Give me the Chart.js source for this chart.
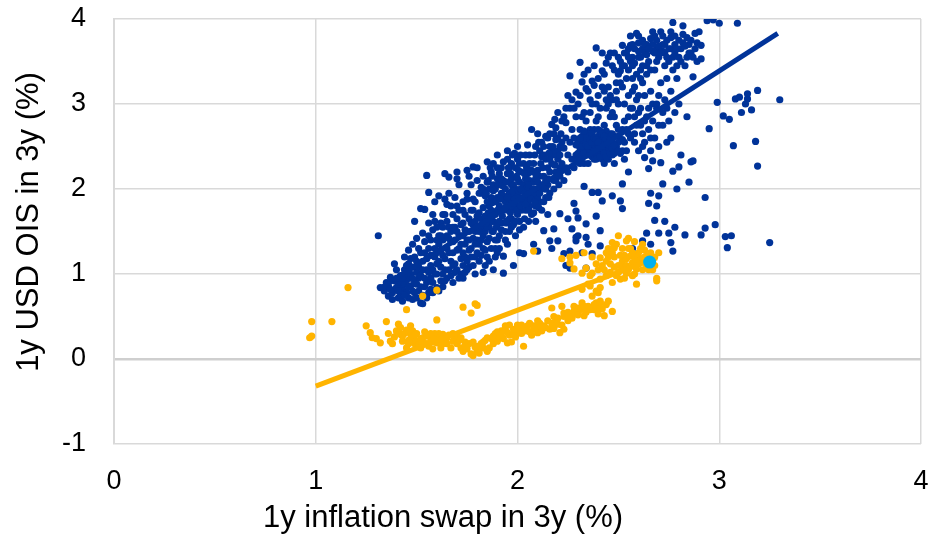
<!DOCTYPE html>
<html><head><meta charset="utf-8">
<script src="https://cdn.jsdelivr.net/npm/chart.js@4.4.0/dist/chart.umd.min.js"></script>
<style>html,body{margin:0;padding:0;background:#fff}canvas{display:block}</style>
</head><body>
<canvas id="c" width="930" height="534"></canvas>
<script>
const xTicks = [0, 1, 2, 3, 4];
const yTicks = [-1, 0, 1, 2, 3, 4];
const xTitle = '1y inflation swap in 3y (%)';
const yTitle = '1y USD OIS in 3y (%)';

const blueTrendX = [1.32, 3.29];
const blueTrendY = [0.83, 3.83];
const yellowTrendX = [1.00, 2.69];
const yellowTrendY = [-0.32, 1.19];
const latestX = [2.655];
const latestY = [1.14];

const blueLowerBand = [
[1.31,1.45],[1.32,0.84],[1.34,0.80],[1.35,0.90],[1.36,0.74],[1.37,0.96],[1.36,0.86],
[1.38,0.78],[1.39,0.92],[1.40,1.05],[1.41,0.72],[1.40,0.84],[1.42,0.98],[1.42,0.75],[1.39,1.12],[1.41,0.88],
[1.43,0.82],[1.44,1.20],[1.45,0.93],[1.46,0.72],[1.44,1.05],[1.47,0.86],[1.46,1.12],[1.45,0.78],[1.47,1.00],[1.43,0.68],[1.46,1.28],
[1.48,0.70],[1.49,0.90],[1.50,1.15],[1.51,0.80],[1.48,1.35],[1.50,1.02],[1.52,1.25],[1.49,1.62],[1.51,0.95],[1.52,0.66],[1.50,1.42],[1.48,1.08],[1.52,1.77],
[1.53,0.65],[1.54,0.85],[1.55,1.05],[1.56,1.30],[1.53,1.48],[1.57,0.95],[1.55,1.18],[1.54,1.76],[1.56,1.96],[1.55,2.16],[1.57,1.10],[1.53,0.75],[1.56,1.60],[1.54,1.38],[1.57,0.82],
[1.58,0.78],[1.59,1.00],[1.60,1.25],[1.61,1.45],[1.58,1.70],[1.62,0.92],[1.60,1.12],[1.59,1.85],[1.61,1.35],[1.62,1.60],[1.58,1.52],[1.60,0.84],[1.62,1.08],[1.61,1.92],[1.59,1.20],
[1.63,0.85],[1.64,1.05],[1.65,1.30],[1.66,1.55],[1.64,2.18],[1.66,2.14],[1.67,1.80],[1.63,1.40],[1.65,0.95],[1.67,1.15],[1.64,1.70],[1.66,1.95],[1.65,1.62],[1.63,1.22],[1.67,1.38],[1.64,1.88],
[1.68,0.90],[1.69,1.12],[1.70,2.20],[1.71,1.45],[1.68,1.70],[1.72,1.00],[1.70,1.28],[1.69,1.90],[1.71,2.05],[1.72,1.58],[1.68,1.38],[1.70,1.80],[1.72,1.18],[1.69,1.55],[1.71,0.95],[1.70,2.12],
[1.73,0.95],[1.74,1.20],[1.75,1.40],[1.76,1.65],[1.73,1.85],[1.77,2.05],[1.75,2.22],[1.74,1.52],[1.76,1.08],[1.77,1.30],[1.73,1.75],[1.75,1.95],[1.76,2.15],[1.74,1.02],[1.77,1.60],[1.73,1.45],[1.75,1.88],
[1.42,0.90],[1.44,0.88],[1.45,1.00],[1.47,0.95],[1.48,0.80],[1.49,1.20],[1.50,0.88],[1.51,1.08],[1.52,0.98],[1.53,1.15],[1.54,0.95],[1.55,0.90],[1.56,1.45],[1.56,0.78],
[1.57,1.22],[1.58,1.05],[1.59,1.30],[1.60,1.00],[1.60,1.55],[1.61,1.15],[1.62,1.28],[1.63,1.00],[1.63,1.55],[1.64,1.18],[1.65,1.45],[1.66,1.05],[1.66,1.25],[1.67,1.50],
[1.68,1.10],[1.68,1.25],[1.69,1.40],[1.70,1.05],[1.70,1.65],[1.71,1.30],[1.72,1.45],[1.73,1.10],[1.73,1.60],[1.74,1.35],[1.75,1.15],[1.76,1.50],[1.76,1.28],[1.77,1.75],
[1.78,1.42],[1.79,1.20],[1.79,1.50],[1.80,1.68],[1.81,1.35],[1.82,1.55],[1.82,1.22],[1.83,1.45],[1.84,1.10],[1.85,1.38],[1.86,1.65],[1.87,1.30],[1.88,1.50],[1.89,1.40],[1.90,1.25],
[1.37,0.82],[1.38,0.70],[1.40,0.95],[1.41,0.80],[1.43,0.95],[1.44,0.75],[1.45,1.10],[1.46,0.85],[1.47,1.18],[1.48,0.95],[1.49,0.78],[1.50,0.72],[1.51,1.30],[1.52,0.85],
[1.53,1.05],[1.54,1.25],[1.55,0.72],[1.56,1.02],[1.57,1.40],[1.58,0.90],[1.59,1.62],[1.60,1.40],[1.61,0.80],[1.62,1.45],[1.63,1.70],[1.64,0.92],[1.65,1.82],[1.66,1.42],
[1.67,0.98],[1.68,1.55],[1.69,1.02],[1.70,1.50],[1.71,1.75],[1.72,1.35],[1.73,1.25],[1.74,1.70],[1.75,1.05],[1.76,1.40],[1.77,1.20],[1.78,1.58],[1.79,1.85],[1.80,1.40],
[1.81,1.95],[1.82,1.65],[1.83,1.30],[1.84,1.50],[1.85,1.20],[1.86,1.55],[1.87,1.75],[1.88,1.62],[1.89,1.85],[1.90,1.40],[1.91,1.30],[1.92,1.60],[1.93,1.75],[1.94,1.60],
[1.95,1.35],[1.96,1.50],[1.97,1.65],[1.98,1.58]
];

const blueCoreBand = [
[1.78,2.26],[1.79,1.00],[1.80,1.25],[1.81,1.50],[1.78,1.75],[1.82,1.95],[1.80,2.10],[1.79,1.62],[1.81,1.15],[1.82,1.40],[1.78,1.88],[1.80,2.25],[1.81,1.72],[1.79,1.35],[1.82,2.02],[1.80,1.55],[1.78,1.10],
[1.83,1.02],[1.84,1.28],[1.85,1.55],[1.86,1.80],[1.83,2.00],[1.87,2.20],[1.85,2.32],[1.84,1.68],[1.86,1.42],[1.87,1.90],[1.83,1.78],[1.85,2.08],[1.86,1.15],[1.84,1.92],[1.87,1.62],[1.85,1.85],[1.83,2.15],[1.86,2.00],
[1.88,1.05],[1.89,1.30],[1.90,1.58],[1.91,1.80],[1.88,2.05],[1.92,2.25],[1.90,2.40],[1.89,1.70],[1.91,1.45],[1.92,1.95],[1.88,1.88],[1.90,2.12],[1.91,1.62],[1.89,2.00],[1.92,1.75],[1.90,1.90],[1.88,2.30],[1.91,2.18],[1.89,1.20],
[1.93,1.21],[1.93,1.01],[1.94,1.50],[1.95,1.75],[1.96,1.95],[1.93,2.10],[1.97,2.30],[1.95,2.45],[1.94,1.85],[1.96,1.65],[1.97,2.05],[1.93,1.92],[1.95,2.18],[1.96,1.82],[1.94,2.00],[1.97,1.88],[1.95,1.60],[1.96,2.25],[1.94,1.40],[1.97,2.12],
[1.98,1.10],[1.99,1.45],[2.00,1.70],[2.01,1.90],[1.98,2.05],[2.02,2.20],[2.00,2.50],[1.99,1.82],[2.01,1.62],[2.02,1.98],[1.98,1.95],[2.00,2.12],[2.01,2.30],[1.99,2.00],[2.02,1.85],[2.00,1.92],[1.98,1.78],[2.01,2.08],[2.02,1.75],[2.00,2.35],[2.01,1.25],
[2.03,1.24],[2.03,1.55],[2.04,1.75],[2.05,1.95],[2.06,2.10],[2.03,2.30],[2.07,2.70],[2.05,2.52],[2.04,1.88],[2.06,1.80],[2.07,2.00],[2.03,2.05],[2.05,2.18],[2.06,1.92],[2.04,2.00],[2.07,2.22],[2.05,1.85],[2.06,2.40],[2.04,2.12],[2.07,1.70],
[2.08,1.35],[2.09,1.80],[2.10,1.27],[2.10,1.98],[2.11,2.15],[2.08,2.30],[2.12,2.55],[2.10,2.65],[2.09,1.92],[2.11,1.85],[2.12,2.05],[2.08,2.08],[2.10,2.22],[2.11,2.00],[2.09,2.12],[2.12,2.38],[2.10,1.90],[2.11,2.45],[2.08,1.95],[2.12,1.75],[2.09,1.62],
[2.13,1.51],[2.14,1.90],[2.15,2.05],[2.16,2.20],[2.13,2.40],[2.17,2.76],[2.15,2.60],[2.14,2.00],[2.16,1.95],[2.17,2.30],[2.13,2.15],[2.15,2.25],[2.16,2.50],[2.14,2.10],[2.17,2.45],[2.16,1.39],[2.17,1.30],[2.15,1.70],[2.14,2.35],
[2.18,1.53],[2.18,2.00],[2.19,2.20],[2.20,2.35],[2.21,2.50],[2.18,2.65],[2.22,2.80],[2.20,1.39],[2.21,1.71],[2.19,2.10],[2.22,2.30],[2.20,2.60],[2.21,2.15],[2.18,2.40],[2.22,2.55],[2.19,2.72],[2.20,2.90],[2.21,2.25],
[1.845,1.60],[1.855,1.72],[1.845,1.95],[1.855,2.10],[1.865,2.25],[1.875,1.50],[1.87,1.68],[1.875,1.84],[1.88,1.98],[1.875,2.15],
[1.895,1.55],[1.90,1.75],[1.895,1.86],[1.905,2.05],[1.90,2.25],[1.92,1.52],[1.925,1.68],[1.915,1.88],[1.925,2.04],[1.92,2.12],[1.93,2.32],
[1.945,1.62],[1.94,1.78],[1.95,1.90],[1.945,2.08],[1.955,2.25],[1.95,2.35],[1.97,1.55],[1.965,1.72],[1.975,1.98],[1.965,2.18],[1.975,2.40],
[1.99,1.62],[1.995,1.75],[1.985,1.88],[1.995,2.15],[1.99,2.25],[1.985,2.42],[2.015,1.80],[2.005,1.98],[2.015,2.00],[2.005,2.22],[2.015,2.40],[2.01,1.52],
[2.035,1.65],[2.04,1.82],[2.035,1.95],[2.045,2.25],[2.04,2.40],[2.035,2.18],[2.055,1.75],[2.065,1.88],[2.055,2.05],[2.06,2.30],[2.065,2.20],[2.055,1.62],
[2.085,1.85],[2.08,2.00],[2.09,2.18],[2.085,2.40],[2.08,1.72],[2.09,2.50],[2.105,1.78],[2.11,1.95],[2.10,2.08],[2.115,2.30],[2.105,2.55],
[2.13,1.85],[2.135,2.00],[2.125,2.25],[2.13,2.50],[2.14,2.62],[2.155,1.90],[2.15,2.12],[2.16,2.35],[2.155,2.42],[2.16,2.65],
[2.18,2.10],[2.185,2.28],[2.175,2.50],[2.19,2.58],[2.185,2.82],[2.205,2.05],[2.21,2.20],[2.20,2.45],[2.215,2.65],[2.21,2.40]
];

const blueUpperBand = [
[2.23,1.24],[2.24,1.10],[2.25,1.65],[2.26,1.07],[2.26,1.27],[2.23,2.10],[2.24,2.25],[2.25,2.40],[2.26,2.55],[2.27,2.70],[2.23,2.85],[2.26,3.33],[2.25,2.20],[2.24,2.60],[2.27,2.35],[2.23,2.48],[2.26,2.95],[2.27,1.53],[2.25,3.10],[2.24,2.78],
[2.28,1.83],[2.29,1.74],[2.29,1.43],[2.29,1.39],[2.30,1.45],[2.30,1.66],[2.28,2.25],[2.29,2.40],[2.30,2.55],[2.31,2.70],[2.32,2.85],[2.29,3.14],[2.31,3.49],[2.32,3.26],[2.28,2.60],[2.30,2.35],[2.31,2.48],[2.32,2.62],[2.29,2.52],[2.30,3.00],[2.31,2.30],[2.32,1.25],[2.28,2.95],
[2.33,2.03],[2.34,1.59],[2.34,1.43],[2.34,1.07],[2.35,1.35],[2.37,1.24],[2.37,1.96],[2.33,2.30],[2.34,2.45],[2.35,2.58],[2.36,2.70],[2.37,2.48],[2.33,2.55],[2.35,2.40],[2.36,2.62],[2.34,2.80],[2.37,3.27],[2.34,3.18],[2.33,2.90],[2.36,2.50],[2.35,2.65],[2.37,2.38],[2.34,2.60],[2.36,3.05],
[2.39,3.66],[2.40,1.96],[2.42,1.86],[2.41,1.51],[2.41,1.33],[2.39,1.68],[2.38,2.35],[2.39,2.50],[2.40,2.62],[2.41,2.45],[2.42,2.55],[2.38,2.70],[2.40,2.40],[2.41,2.58],[2.39,2.42],[2.42,3.60],[2.42,3.39],[2.40,2.85],[2.41,2.68],[2.38,2.52],[2.40,2.48],[2.42,2.35],[2.39,3.00],[2.41,2.55],
[2.43,2.30],[2.44,2.45],[2.45,2.60],[2.46,2.50],[2.47,2.40],[2.43,2.55],[2.44,2.68],[2.45,2.35],[2.46,2.65],[2.47,2.55],[2.46,3.60],[2.47,1.92],[2.44,2.95],[2.45,3.20],[2.43,2.75],[2.46,2.85],[2.47,3.05],[2.44,2.50],[2.45,2.45],
[2.48,2.30],[2.49,2.50],[2.50,2.62],[2.51,2.42],[2.52,2.70],[2.51,3.39],[2.52,3.69],[2.51,1.86],[2.52,1.77],[2.52,2.06],[2.48,2.85],[2.50,3.00],[2.49,3.15],[2.51,3.50],[2.50,2.55],[2.48,2.62],[2.52,2.45],[2.49,2.75],
[2.53,2.55],[2.54,2.70],[2.55,2.85],[2.56,3.69],[2.57,3.30],[2.53,3.45],[2.54,3.60],[2.55,3.10],[2.56,2.60],[2.57,2.95],[2.53,2.35],[2.55,2.20],[2.57,1.30],[2.56,3.50],[2.54,2.45],[2.57,3.15],
[2.35,3.40],[2.38,3.22],[2.40,3.10],[2.43,3.35],[2.44,3.48],[2.46,3.10],[2.48,3.40],[2.49,3.25],[2.50,3.55],[2.52,3.20],[2.53,3.00],[2.55,3.40],[2.57,3.55],[2.58,2.85],[2.60,3.10],[2.62,3.25],[2.63,3.10],[2.45,3.00],[2.47,2.90],[2.43,3.15],[2.41,2.95],[2.36,2.90],[2.39,2.80],
[2.30,2.42],[2.31,2.60],[2.32,2.40],[2.32,2.50],[2.33,2.68],[2.33,2.42],[2.34,2.52],[2.35,2.30],[2.35,2.50],[2.36,2.42],[2.36,2.58],[2.37,2.55],[2.37,2.65],[2.38,2.45],[2.38,2.60],[2.39,2.35],[2.39,2.58],[2.40,2.55],
[2.40,2.70],[2.41,2.38],[2.42,2.48],[2.42,2.65],[2.43,2.42],[2.43,2.62],[2.44,2.38],[2.44,2.58],[2.45,2.52],[2.46,2.42],[2.46,2.58],[2.47,2.48],[2.47,2.65],[2.48,2.52],[2.48,2.42],[2.50,2.45],[2.50,2.70],[2.52,2.58],
[2.24,2.95],[2.27,3.05],[2.29,2.85],[2.31,3.10],[2.33,3.35],[2.35,3.15],[2.37,3.00],[2.38,3.45],[2.40,3.30],[2.42,3.20],[2.44,3.05],[2.45,3.55],[2.47,3.45],[2.48,3.60],
[2.49,3.05],[2.50,3.35],[2.51,3.25],[2.52,3.45],[2.53,3.60],[2.54,3.30],[2.55,3.55]
];

const blueRightBand = [
[2.58,2.65],[2.59,3.83],[2.60,3.55],[2.61,3.40],[2.62,3.65],[2.58,3.20],[2.60,2.90],[2.61,2.75],[2.62,1.39],[2.59,3.05],[2.62,2.50],[2.60,3.72],[2.58,3.48],[2.61,3.30],
[2.63,2.37],[2.64,1.48],[2.65,2.24],[2.66,1.35],[2.67,2.33],[2.63,3.60],[2.64,3.70],[2.65,3.50],[2.66,3.77],[2.67,3.62],[2.68,3.80],[2.64,3.35],[2.66,3.15],[2.65,2.95],[2.63,2.80],[2.67,3.00],[2.65,1.83],[2.66,1.95],[2.64,3.45],[2.66,2.60],
[2.69,1.80],[2.70,1.92],[2.70,1.48],[2.71,3.85],[2.71,2.31],[2.72,2.06],[2.69,3.65],[2.70,3.55],[2.72,3.70],[2.68,3.40],[2.71,3.25],[2.69,2.95],[2.70,2.75],[2.72,2.90],[2.70,3.10],[2.68,1.63],
[2.73,3.60],[2.74,3.75],[2.75,3.50],[2.76,1.37],[2.77,1.27],[2.77,3.96],[2.77,2.21],[2.75,1.48],[2.74,3.30],[2.76,3.65],[2.73,3.05],[2.75,2.80],[2.74,2.55],[2.76,3.15],[2.73,1.62],[2.77,3.40],
[2.79,2.00],[2.80,2.26],[2.82,3.82],[2.82,3.92],[2.78,3.70],[2.80,3.55],[2.81,3.65],[2.79,3.30],[2.81,2.40],[2.80,3.00],[2.78,1.55],
[2.83,1.46],[2.85,2.08],[2.86,2.32],[2.87,2.33],[2.87,3.32],[2.88,3.83],[2.84,3.55],[2.85,3.70],[2.86,3.60],[2.84,2.85],[2.83,3.45],
[2.62,3.75],[2.67,3.70],[2.69,3.75],[2.72,3.62],[2.74,3.55],[2.76,3.78],[2.78,3.60],[2.80,3.75],[2.83,3.68],[2.85,3.60],[2.88,3.65],[2.89,3.50],[2.79,3.45],[2.73,3.45],[2.70,3.68],[2.64,3.58],[2.60,3.62],[2.57,3.70],[2.55,3.65],
[2.56,3.80],[2.57,3.45],[2.58,3.65],[2.59,3.35],[2.60,3.80],[2.61,3.55],[2.62,3.45],[2.63,3.70],[2.65,3.65],[2.66,3.40],[2.67,3.85],[2.68,3.60],[2.69,3.50],[2.71,3.60],
[2.72,3.80],[2.73,3.70],[2.75,3.65],[2.76,3.85],[2.77,3.55],[2.78,3.80],[2.79,3.65],[2.81,3.50],[2.82,3.72],[2.84,3.78],[2.86,3.75],[2.87,3.55],[2.90,3.85],[2.89,3.72],
[2.53,2.80],[2.55,2.65],[2.56,2.95],[2.58,2.55],[2.59,2.75],[2.60,2.45],[2.61,2.95],[2.62,2.65],[2.63,2.55],[2.64,2.85],[2.65,2.70],[2.66,2.45],[2.67,2.80],[2.68,2.60],
[2.69,3.00],[2.70,2.50],[2.72,2.75],[2.74,2.95],[2.76,2.60],[2.78,2.90]
];

const blueOutliers = [
[2.91,3.69],[2.91,3.53],[2.91,1.46],[2.93,1.54],[2.93,1.90],[2.94,3.98],[2.95,2.71],[2.97,3.99],[2.98,1.58],[2.99,3.02],[3.00,3.95],
[3.02,2.86],[3.03,1.44],[3.04,1.31],[3.05,2.82],[3.06,1.45],[3.07,2.51],[3.08,3.06],[3.09,3.95],[3.11,2.90],[3.14,3.06],[3.14,3.12],
[3.16,2.93],[3.18,2.56],[3.19,3.16],[3.19,2.27],[3.25,1.37],[3.30,3.05],[3.10,3.08],[3.13,3.00]
];

const yellowLowBand = [
[0.98,0.44],[1.08,0.44],[0.98,0.27],[0.97,0.25],[1.16,0.84],[1.45,0.58],[1.53,0.74],[1.60,0.81],[1.60,0.46],[1.73,0.61],[1.79,0.65],[1.77,0.54],[1.80,0.63],
[1.25,0.39],[1.27,0.31],[1.28,0.25],[1.30,0.24],[1.32,0.19],[1.35,0.44],[1.37,0.21],[1.38,0.18],[1.41,0.41],[1.42,0.37],[1.42,0.29],[1.43,0.21],[1.45,0.13],
[1.47,0.39],[1.47,0.29],[1.48,0.25],[1.49,0.18],[1.50,0.21],[1.52,0.13],[1.53,0.25],[1.55,0.18],[1.57,0.21],[1.58,0.12],[1.58,0.25],[1.60,0.19],[1.62,0.13],
[1.63,0.29],[1.65,0.18],[1.67,0.13],[1.68,0.21],[1.70,0.18],[1.72,0.13],[1.73,0.09],[1.75,0.12],[1.76,0.18],[1.77,0.06],[1.78,0.04],[1.80,0.09],[1.81,0.07],
[1.83,0.13],[1.85,0.09],[1.86,0.13],[1.88,0.18],[1.90,0.21],
[1.44,0.30],[1.46,0.22],[1.50,0.30],[1.52,0.24],[1.54,0.32],[1.56,0.15],[1.59,0.30],[1.61,0.24],[1.64,0.22],[1.66,0.28],[1.69,0.25],[1.71,0.22],[1.74,0.20],
[1.79,0.14],[1.82,0.18],[1.84,0.22],[1.87,0.24],[1.89,0.30],[1.91,0.25],[1.92,0.33],[1.96,0.28],[1.97,0.20],[1.99,0.26],[2.00,0.40],[2.02,0.30],[2.03,0.36],
[1.94,0.39],[1.95,0.31],[1.98,0.35],[2.01,0.31],[2.05,0.39],[2.08,0.39],[2.10,0.31],[2.13,0.39],[2.16,0.35],[2.20,0.41],[2.21,0.31],[1.95,0.19],[2.03,0.15],[1.93,0.24],
[2.06,0.32],[2.07,0.28],[2.09,0.36],[2.11,0.42],[2.12,0.33],[2.14,0.37],[2.17,0.42],[2.18,0.36],[2.19,0.46],[2.22,0.40],[2.23,0.35],[2.25,0.45],[2.24,0.52],
[2.27,0.48],[2.28,0.62],[2.30,0.52],[2.31,0.58],[2.32,0.66],[2.34,0.55],[2.35,0.62],[2.38,0.58],[2.39,0.66],[2.40,0.60],[2.44,0.64],[2.45,0.68],[2.47,0.56],
[2.17,0.60],[2.22,0.62],[2.23,0.54],[2.26,0.51],[2.29,0.53],[2.32,0.59],[2.33,0.51],[2.39,0.62],[2.41,0.66],[2.42,0.59],[2.43,0.51],[2.40,0.53],
[1.36,0.30],[1.39,0.26],[1.40,0.33],[1.43,0.27],[1.45,0.34],[1.46,0.18],[1.48,0.33],[1.49,0.28],[1.51,0.17],[1.53,0.20],[1.55,0.27],[1.57,0.30],[1.59,0.20],
[1.61,0.30],[1.63,0.18],[1.65,0.25],[1.68,0.30],[1.70,0.27],[1.72,0.25],[1.74,0.15],[1.78,0.20],[1.80,0.15],[1.83,0.20],[1.85,0.25],[1.88,0.27],[1.90,0.32],
[1.92,0.28],[1.94,0.35],[1.96,0.40],[1.98,0.30],[2.00,0.36],[2.02,0.40],[2.04,0.33],[2.06,0.42],[2.08,0.35],[2.10,0.45],[2.12,0.38],[2.15,0.45],[2.18,0.50],
[2.20,0.48],[2.23,0.50],[2.25,0.55],[2.28,0.56],[2.30,0.60],[2.33,0.62],[2.36,0.58],[2.38,0.64]
];

const yellowUpperCluster = [
[2.08,1.27],[2.22,1.18],[2.26,1.13],[2.28,1.06],[2.32,1.01],[2.36,0.98],[2.34,1.07],
[2.41,1.19],[2.44,1.25],[2.47,1.37],[2.50,1.45],[2.54,1.39],[2.48,1.31],[2.52,1.30],[2.56,1.21],[2.57,1.13],[2.59,1.06],[2.61,1.18],[2.64,1.10],[2.64,1.21],[2.67,1.18],
[2.37,1.01],[2.41,0.94],[2.44,0.98],[2.47,0.90],[2.51,0.94],[2.54,1.01],[2.57,0.98],[2.35,0.88],[2.40,0.78],[2.41,0.84],[2.69,0.95],[2.69,0.92],[2.59,0.88],
[2.36,0.86],[2.39,0.80],[2.32,0.82],[2.37,0.74],[2.41,0.68],
[2.50,1.10],[2.52,1.15],[2.53,1.22],[2.55,1.05],[2.56,1.30],[2.58,1.20],[2.60,1.25],[2.60,1.12],[2.62,1.05],[2.63,1.28],[2.65,1.15],[2.66,1.25],[2.67,1.05],
[2.68,1.20],[2.70,1.25],[2.62,1.35],[2.58,1.38],[2.55,1.42],[2.48,1.20],[2.46,1.12],[2.45,1.30],[2.43,1.05],[2.50,1.02],[2.53,0.95],[2.49,0.98],[2.44,1.15],
[2.39,1.12],[2.37,1.20],[2.33,1.25],[2.29,1.22],[2.26,1.20],
[2.42,1.10],[2.45,1.20],[2.47,1.25],[2.49,1.35],[2.51,1.22],[2.52,1.08],[2.54,1.18],[2.55,1.30],[2.57,1.25],[2.59,1.15],[2.61,1.30],[2.63,1.20],[2.65,1.05],
[2.66,1.15],[2.68,1.10],[2.54,1.10],[2.58,1.00],[2.46,1.02],[2.40,1.05],[2.48,1.08]
];

function toPoints(list){ return list.map(p => ({x: p[0], y: p[1]})); }
function zipPoints(xs, ys){ return xs.map((x, i) => ({x: x, y: ys[i]})); }

const BLUE = '#003399';
const YELLOW = '#ffb400';
const CYAN = '#00b0f0';
const GRID = '#d9d9d9';

const titlePlugin = {
  id: 'axisTitles',
  afterDraw(chart){
    const ctx = chart.ctx;
    ctx.save();
    ctx.fillStyle = '#000';
    ctx.font = '31px "Liberation Sans", Arial, sans-serif';
    ctx.textAlign = 'center';
    ctx.textBaseline = 'alphabetic';
    ctx.fillText(xTitle, 443, 527);
    ctx.translate(38, 222);
    ctx.rotate(-Math.PI / 2);
    ctx.fillText(yTitle, 0, 0);
    ctx.restore();
  }
};

new Chart(document.getElementById('c'), {
  type: 'scatter',
  data: {
    datasets: [
      { data: zipPoints(latestX, latestY), backgroundColor: CYAN, borderWidth: 0, pointRadius: 6.5, order: 0 },
      { type: 'line', data: zipPoints(yellowTrendX, yellowTrendY), borderColor: YELLOW, borderWidth: 5, pointRadius: 0, fill: false, order: 1 },
      { data: toPoints(yellowLowBand.concat(yellowUpperCluster)), backgroundColor: YELLOW, borderWidth: 0, pointRadius: 3.6, order: 2 },
      { type: 'line', data: zipPoints(blueTrendX, blueTrendY), borderColor: BLUE, borderWidth: 5, pointRadius: 0, fill: false, order: 3 },
      { data: toPoints(blueLowerBand.concat(blueCoreBand, blueUpperBand, blueRightBand, blueOutliers)), backgroundColor: BLUE, borderWidth: 0, pointRadius: 3.6, order: 4 }
    ]
  },
  options: {
    responsive: false,
    animation: false,
    events: [],
    layout: { padding: { top: 19, right: 9, left: 0, bottom: 0 } },
    plugins: { legend: { display: false }, tooltip: { enabled: false } },
    scales: {
      x: {
        type: 'linear', min: 0, max: 4,
        afterBuildTicks: s => { s.ticks = xTicks.map(v => ({value: v})); },
        afterFit: s => { s.height = 90; s.paddingLeft = 0; s.paddingRight = 0; },
        grid: { color: GRID, lineWidth: 1.5, drawTicks: false },
        border: { display: false },
        ticks: { color: '#000', font: { family: '"Liberation Sans", Arial', size: 27 }, padding: 21, maxRotation: 0 }
      },
      y: {
        type: 'linear', min: -1, max: 4,
        afterBuildTicks: s => { s.ticks = yTicks.map(v => ({value: v})); },
        afterFit: s => { s.width = 114; s.paddingTop = 0; s.paddingBottom = 0; },
        grid: { color: c => c.tick && c.tick.value === 0 ? '#cfcfcf' : GRID, lineWidth: c => c.tick && c.tick.value === 0 ? 2.5 : 1.5, drawTicks: false },
        border: { display: true, color: GRID, width: 2 },
        ticks: { color: '#000', font: { family: '"Liberation Sans", Arial', size: 27 }, padding: 28 }
      }
    }
  },
  plugins: [titlePlugin]
});
</script>
</body></html>
